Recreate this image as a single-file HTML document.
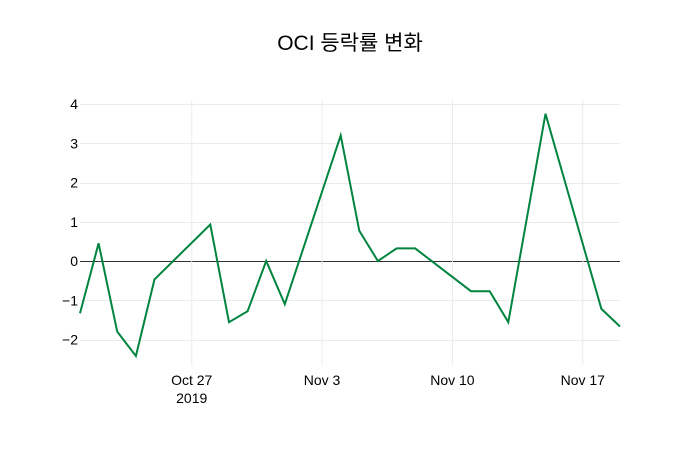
<!DOCTYPE html>
<html><head><meta charset="utf-8"><style>
body{margin:0;background:#fff;font-family:"Liberation Sans","Noto Sans CJK KR",sans-serif;}
svg text{font-family:"Liberation Sans","Noto Sans CJK KR",sans-serif;fill:#2a3f5f;}
</style></head><body>
<svg id="chart" width="700" height="450" xmlns="http://www.w3.org/2000/svg">
<rect width="700" height="450" fill="#fff"/>
<text x="350" y="50" text-anchor="middle" font-size="21" style="fill:#000">OCI 등락률 변화</text>
<g id="grid"></g><g id="axes"></g><g id="series"></g>
</svg>
<script>
const dates=["2019-10-21","2019-10-22","2019-10-23","2019-10-24","2019-10-25","2019-10-28","2019-10-29","2019-10-30","2019-10-31","2019-11-01","2019-11-04","2019-11-05","2019-11-06","2019-11-07","2019-11-08","2019-11-11","2019-11-12","2019-11-13","2019-11-15","2019-11-18","2019-11-19"];
const values=[-1.33,0.45,-1.8,-2.42,-0.47,0.93,-1.56,-1.28,0,-1.1,3.2,0.77,0,0.32,0.32,-0.77,-0.77,-1.56,3.75,-1.22,-1.67];
const yTicks=[-2,-1,0,1,2,3,4];
const yTickLabels=["−2","−1","0","1","2","3","4"];
const xTicks=["2019-10-27","2019-11-03","2019-11-10","2019-11-17"];
const xTickLabels=["Oct 27","Nov 3","Nov 10","Nov 17"];
const NS="http://www.w3.org/2000/svg";
const x0=Date.parse(dates[0]), x1=Date.parse(dates[dates.length-1]);
function xs(d){return 80+(Date.parse(d)-x0)/(x1-x0)*540;}
function ys(v){return 261-v*39.25;}
function mk(t,a,p){const e=document.createElementNS(NS,t);for(const k in a)e.setAttribute(k,a[k]);p.appendChild(e);return e;}
const grid=document.getElementById('grid'),axes=document.getElementById('axes'),series=document.getElementById('series');
yTicks.forEach((v,i)=>{
 const l=mk('line',{x1:80,x2:620,y1:Math.round(ys(v))+0.5,y2:Math.round(ys(v))+0.5,stroke:v===0?'#333':'#ebebeb','stroke-width':1},grid);
 
 
 const t=mk('text',{x:78,y:ys(v)+5,'text-anchor':'end','font-size':14},axes);
 
 
 t.style.fill='#000';t.textContent=yTickLabels[i];
});
xTicks.forEach((d,i)=>{
 const l=mk('line',{x1:xs(d),x2:xs(d),y1:100,y2:365,stroke:'#ebebeb','stroke-width':1},grid);
 
 
 const t=mk('text',{x:xs(d),y:385,'text-anchor':'middle','font-size':14},axes);
 
 
 t.style.fill='#000';t.textContent=xTickLabels[i];
});
const yr=mk('text',{x:xs(xTicks[0]),y:403,'text-anchor':'middle','font-size':14},axes);


yr.style.fill='#000';yr.textContent='2019';
const pts=dates.map((d,i)=>xs(d).toFixed(1)+','+ys(values[i]).toFixed(1)).join(' ');
const pl=mk('polyline',{points:pts,fill:'none',stroke:'#00843f','stroke-width':2,'stroke-linejoin':'miter'},series);


</script>
</body></html>
